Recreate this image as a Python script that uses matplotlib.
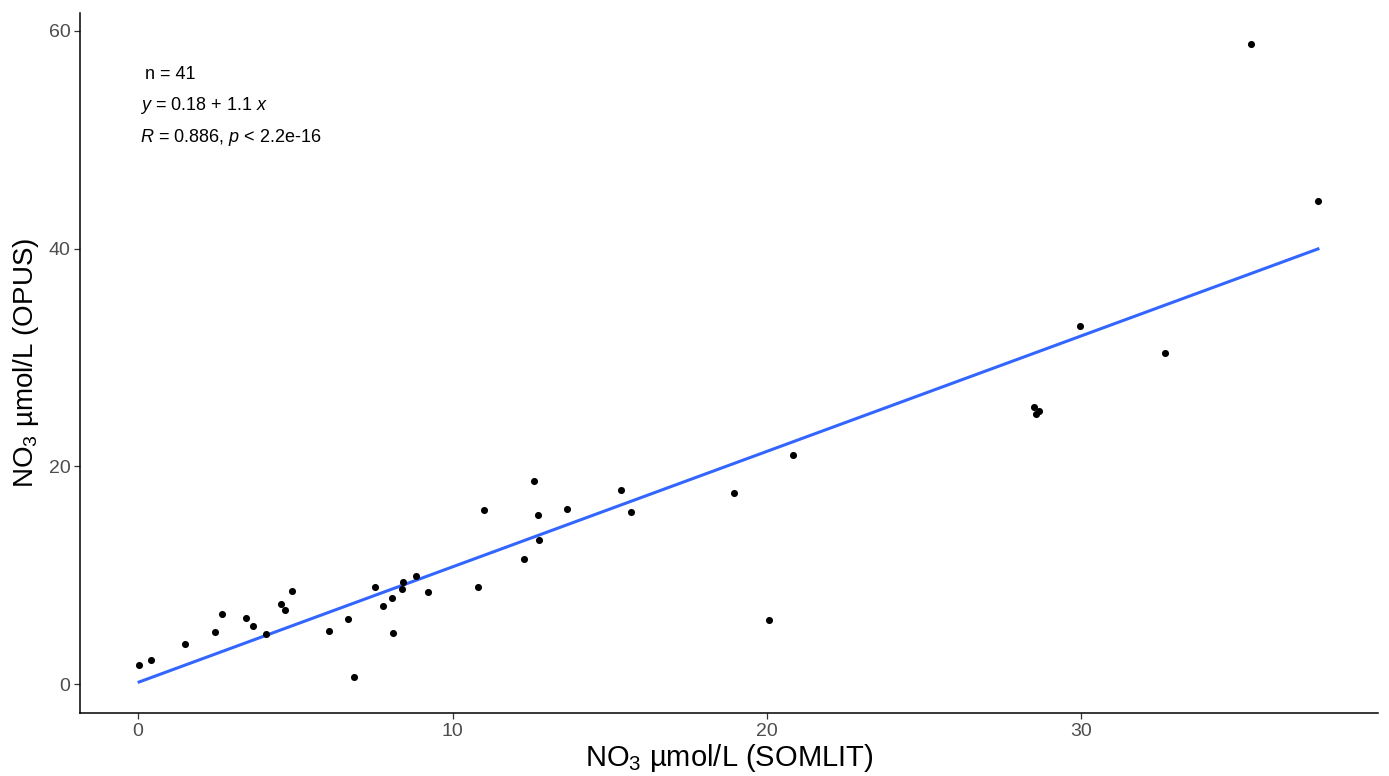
import numpy as np
import matplotlib
matplotlib.use("Agg")
import matplotlib.pyplot as plt

plt.rcParams['font.family'] = ['Liberation Sans', 'DejaVu Sans']
plt.rcParams['mathtext.fontset'] = 'custom'
plt.rcParams['mathtext.rm'] = 'Liberation Sans'
plt.rcParams['mathtext.it'] = 'Liberation Sans:italic'
plt.rcParams['mathtext.bf'] = 'Liberation Sans:bold'

# NO3 µmol/L measured by SOMLIT (x) and OPUS (y)
somlit = [0.03, 0.40, 1.50, 2.44, 2.68, 3.44, 3.66, 4.05, 4.53, 4.67,
          4.88, 6.06, 6.68, 6.85, 7.54, 7.80, 8.06, 8.10, 8.42, 8.40,
          8.84, 9.21, 10.81, 11.00, 12.26, 12.59, 12.73, 12.75, 13.64, 15.35,
          15.67, 18.96, 20.83, 20.07, 28.50, 28.66, 28.55, 35.38, 37.52, 29.94,
          32.67]
opus = [1.78, 2.21, 3.71, 4.75, 6.46, 6.04, 5.33, 4.63, 7.38, 6.83,
        8.52, 4.90, 5.98, 0.64, 8.95, 7.20, 7.91, 4.69, 9.38, 8.71,
        9.90, 8.46, 8.89, 16.00, 11.49, 18.67, 15.57, 13.24, 16.09, 17.87,
        15.85, 17.53, 21.06, 5.91, 25.50, 25.13, 24.77, 58.79, 44.41, 32.92,
        30.41]

x_ticks = [0, 10, 20, 30]
y_ticks = [0, 20, 40, 60]
eq_text = r"$\it{y}$ = 0.18 + 1.1 $\it{x}$"
stat_text = r"$\it{R}$ = 0.886, $\it{p}$ < 2.2e-16"

x = np.array(somlit)
y = np.array(opus)
slope, intercept = np.polyfit(x, y, 1)

fig = plt.figure(figsize=(13.89, 7.76), dpi=100)
ax = fig.add_axes([80/1389, (776-713)/776, (1378-80)/1389, (713-13)/776])

xs = np.linspace(x.min(), x.max(), 80)
ax.plot(xs, intercept + slope*xs, color='#3366FF', lw=2.2, zorder=2)
ax.scatter(x, y, s=26, color='black', zorder=3, linewidths=0)

ax.set_xlim(-1.85, 39.43)
ax.set_ylim(-2.65, 61.65)
ax.set_xticks(x_ticks)
ax.set_yticks(y_ticks)
for s in ['top', 'right']:
    ax.spines[s].set_visible(False)
for s in ['left', 'bottom']:
    ax.spines[s].set_linewidth(1.1)
    ax.spines[s].set_color('black')
ax.tick_params(axis='both', length=4, width=0.9, color='#333333',
               labelsize=14, labelcolor='#4D4D4D', pad=3)

ax.set_xlabel(r"NO$_3$ µmol/L (SOMLIT)", fontsize=21, labelpad=2)
ax.set_ylabel(r"NO$_3$ µmol/L (OPUS)", fontsize=20, labelpad=5)

ax.text(0.05, 56.0, f" n = {len(x)}", fontsize=13, va='center', ha='left')
ax.text(0.05, 53.15, eq_text, fontsize=13, va='center', ha='left')
ax.text(0.05, 50.2, stat_text, fontsize=13, va='center', ha='left')

fig.savefig("out.png", dpi=100)
